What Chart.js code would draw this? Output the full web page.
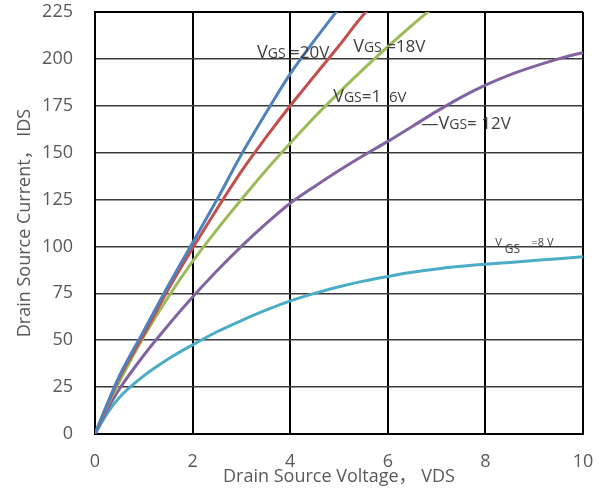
<!DOCTYPE html>
<html>
<head>
<meta charset="utf-8">
<script src="https://cdn.jsdelivr.net/npm/chart.js@4.4.0/dist/chart.umd.min.js"></script>
<style>
  html, body { margin: 0; padding: 0; background: #fff; }
  #wrap { width: 600px; height: 491px; position: relative; }
</style>
</head>
<body>
<div id="wrap"><canvas id="idsChart"></canvas></div>
<script>
// Drain source voltage samples (V)
const vds = [0, 0.25, 0.5, 1, 1.5, 2, 2.5, 3, 3.5, 4, 4.5, 5, 5.5, 6, 6.5, 7, 7.5, 8, 8.5, 9, 9.5, 10];

// Drain source current (A) per gate voltage
const ids20 = [0, 16, 31, 55, 79, 102, 125, 149, 171, 192, 210, 227];
const ids18 = [0, 15.5, 30, 53, 77, 99, 120, 140, 158, 175, 191, 207, 223.5, 237];
const ids16 = [0, 15, 28, 52, 73, 92, 109, 125, 140.5, 155, 169, 182, 194.5, 206.5, 218, 229];
const ids12 = [0, 13, 24, 42, 58, 73, 87, 100, 112, 123, 132, 140.5, 148.5, 156, 164, 172, 179.5, 186, 191.5, 196, 200, 203.5];
const ids8 = [0, 11, 19.5, 31, 40, 47.5, 54.5, 60.5, 66, 71, 75, 78.5, 81.5, 84, 86.2, 88, 89.4, 90.5, 91.5, 92.5, 93.5, 94.5];

const xTicks = [0, 2, 4, 6, 8, 10];
const yTicks = [0, 25, 50, 75, 100, 125, 150, 175, 200, 225];

const FONT = "'Open Sans', 'Noto Sans', 'Noto Sans CJK SC', sans-serif";

const toPoints = (vals) => vals.map((v, i) => ({ x: vds[i], y: v }));

const series = [
  { label: 'VGS=20V', data: ids20, color: '#4f81bd' },
  { label: 'VGS=18V', data: ids18, color: '#c0504d' },
  { label: 'VGS=16V', data: ids16, color: '#9bbb59' },
  { label: 'VGS=12V', data: ids12, color: '#8064a2' },
  { label: 'VGS=8V', data: ids8, color: '#4bacc6' }
];

// curve labels: anchor in data units, then runs of text drawn left to right
const curveLabels = [
  { x: 3.32, y: 200.5, runs: [['V', 18, 0], ['GS', 14, 0], [' =20V', 17, 0]] },
  { x: 5.29, y: 203.5, runs: [['V', 18, 0], ['GS', 14, 0], [' =18V', 17, 0]] },
  { x: 4.88, y: 177, runs: [['V', 18, 0], ['GS', 14, 0], ['=1', 17, 0], ['  6V', 15, 0]] },
  { x: 6.69, y: 162.6, runs: [['\u2014', 17, 0], ['V', 18, 0], ['GS', 14, 0], ['= 12V', 17, 0]] },
  { x: 8.2, y: 100.5, runs: [['V', 11, 0], [' GS', 12, 7], ['    =8 V', 11, 0]] }
];

const labelPlugin = {
  id: 'curveLabels',
  afterDatasetsDraw(chart) {
    const { ctx, scales } = chart;
    ctx.save();
    ctx.fillStyle = '#404040';
    ctx.textBaseline = 'alphabetic';
    ctx.textAlign = 'left';
    curveLabels.forEach(lbl => {
      let px = scales.x.getPixelForValue(lbl.x);
      const py = scales.y.getPixelForValue(lbl.y);
      lbl.runs.forEach(([t, size, dy]) => {
        ctx.font = size + 'px ' + FONT;
        ctx.fillText(t, px, py + dy);
        px += ctx.measureText(t).width;
      });
    });
    ctx.restore();
  }
};

new Chart(document.getElementById('idsChart'), {
  type: 'line',
  data: {
    datasets: series.map(s => ({
      label: s.label,
      data: toPoints(s.data),
      borderColor: s.color,
      backgroundColor: s.color,
      borderWidth: 3,
      pointRadius: 0,
      fill: false,
      cubicInterpolationMode: 'monotone'
    }))
  },
  options: {
    responsive: true,
    maintainAspectRatio: false,
    animation: false,
    layout: { padding: { top: 12, right: 17, left: 0, bottom: 0 } },
    plugins: {
      legend: { display: false },
      tooltip: { enabled: false }
    },
    scales: {
      x: {
        type: 'linear',
        min: 0,
        max: 10,
        afterBuildTicks: (scale) => { scale.ticks = xTicks.map(v => ({ value: v })); },
        afterFit: (scale) => { scale.height = 57; },
        grid: { color: '#000', lineWidth: 2, drawTicks: true, tickLength: 17, tickColor: 'rgba(0,0,0,0)' },
        border: { color: '#000', width: 2 },
        ticks: { color: '#595959', font: { family: FONT, size: 18 }, padding: 0, maxRotation: 0 },
        title: {
          display: true,
          text: 'Drain Source Voltage， VDS',
          color: '#595959',
          font: { family: FONT, size: 18 },
          padding: { top: 0, bottom: 3 }
        }
      },
      y: {
        type: 'linear',
        min: 0,
        max: 225,
        afterBuildTicks: (scale) => { scale.ticks = yTicks.map(v => ({ value: v })); },
        afterFit: (scale) => { scale.width = 95; },
        grid: {
          color: (c) => (c.tick && (c.tick.value === 0 || c.tick.value === 225)) ? '#000' : '#3a3a3a',
          lineWidth: (c) => (c.tick && (c.tick.value === 0 || c.tick.value === 225)) ? 2 : 1.5,
          drawTicks: true,
          tickLength: 22,
          tickColor: 'rgba(0,0,0,0)'
        },
        border: { color: '#000', width: 2 },
        ticks: { color: '#595959', font: { family: FONT, size: 18 }, padding: 0 },
        title: {
          display: true,
          text: 'Drain Source Current， IDS',
          color: '#595959',
          font: { family: FONT, size: 18 },
          padding: { top: 14, bottom: 0 }
        }
      }
    }
  },
  plugins: [labelPlugin]
});
</script>
</body>
</html>
